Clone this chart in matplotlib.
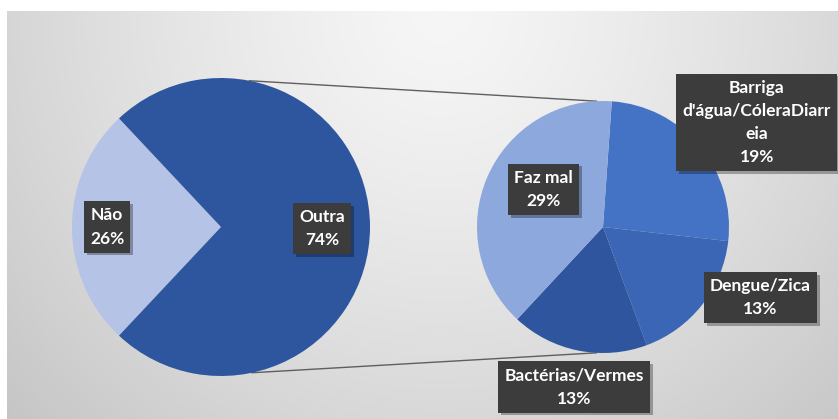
import numpy as np
import matplotlib
matplotlib.use("Agg")
import matplotlib.pyplot as plt
import matplotlib.patheffects as pe

# main split: "Outra" gets broken down in the second pie
main_labels = ["Não", "Outra"]
main_values = [26, 74]
main_colors = ["#b4c3e6", "#2e569e"]

detail_labels = ["Barriga\nd'água/CóleraDiarr\neia", "Dengue/Zica", "Bactérias/Vermes", "Faz mal"]
detail_values = [19, 13, 13, 29]
detail_colors = ["#4473c5", "#3a66b5", "#2e559e", "#8da8dc"]

# label centres in pie units (x, y) relative to each pie's centre
main_label_pos = [(-0.765, 0.0), (0.68, -0.01)]
detail_label_pos = [(1.22, 0.83), (1.25, -0.56), (-0.23, -1.27), (-0.47, 0.30)]

W, H = 838, 419
fig = plt.figure(figsize=(W / 100, H / 100), dpi=100)
fig.patch.set_facecolor("white")

# background panel with a soft radial gradient
ax_bg = fig.add_axes([0, 0, 1, 1], zorder=-1)
yy, xx = np.mgrid[12:H, 7:W]
d = np.hypot(xx - 440, yy - 12)
shade = 0.965 - 0.19 * (d / 590) ** 1.3
ax_bg.imshow(np.dstack([shade] * 3), extent=(7, W, H, 12), interpolation="bilinear")
ax_bg.set_xlim(0, W)
ax_bg.set_ylim(H, 0)
ax_bg.axis("off")


def pie_axes(cx, cy, r, values, colors, start, ccw):
    ax = fig.add_axes([(cx - r) / W, (H - cy - r) / H, 2 * r / W, 2 * r / H])
    ax.pie(values, colors=colors, startangle=start, counterclock=ccw,
           radius=1, wedgeprops=dict(linewidth=0))
    # pie() sets its own limits, so put them back to the unit circle
    ax.set_xlim(-1, 1)
    ax.set_ylim(-1, 1)
    ax.set_aspect("equal")
    ax.axis("off")
    return ax


ax_main = pie_axes(221, 227, 149, main_values, main_colors, 133.2, True)
ax_detail = pie_axes(603, 227, 126, detail_values, detail_colors, 86, False)

font = ["Lato", "DejaVu Sans"]


def put_label(ax, pos, text):
    x, y = pos
    t = ax.text(x, y, text, ha="center", va="center", multialignment="center",
                fontsize=12.5, fontweight="bold", family=font, color="white",
                linespacing=1.55, zorder=5,
                bbox=dict(boxstyle="square,pad=0.35", facecolor="#3c3c3c", edgecolor="none"))
    t.get_bbox_patch().set_path_effects(
        [pe.SimplePatchShadow(offset=(2, -2), shadow_rgbFace="black", alpha=0.3), pe.Normal()])


for lab, val, pos in zip(main_labels, main_values, main_label_pos):
    put_label(ax_main, pos, f"{lab}\n{val}%")
for lab, val, pos in zip(detail_labels, detail_values, detail_label_pos):
    put_label(ax_detail, pos, f"{lab}\n{val}%")

# connector lines from the split slice to the top/bottom of the detail pie
to_bg = ax_bg.transData.inverted()
for a_main, a_detail in [(79, 93), (-78, -93)]:
    p0 = to_bg.transform(ax_main.transData.transform(
        (np.cos(np.radians(a_main)), np.sin(np.radians(a_main)))))
    p1 = to_bg.transform(ax_detail.transData.transform(
        (np.cos(np.radians(a_detail)), np.sin(np.radians(a_detail)))))
    ax_bg.plot([p0[0], p1[0]], [p0[1], p1[1]], color="#5f5f5f", linewidth=1.0)

fig.savefig("out.png", dpi=100)
